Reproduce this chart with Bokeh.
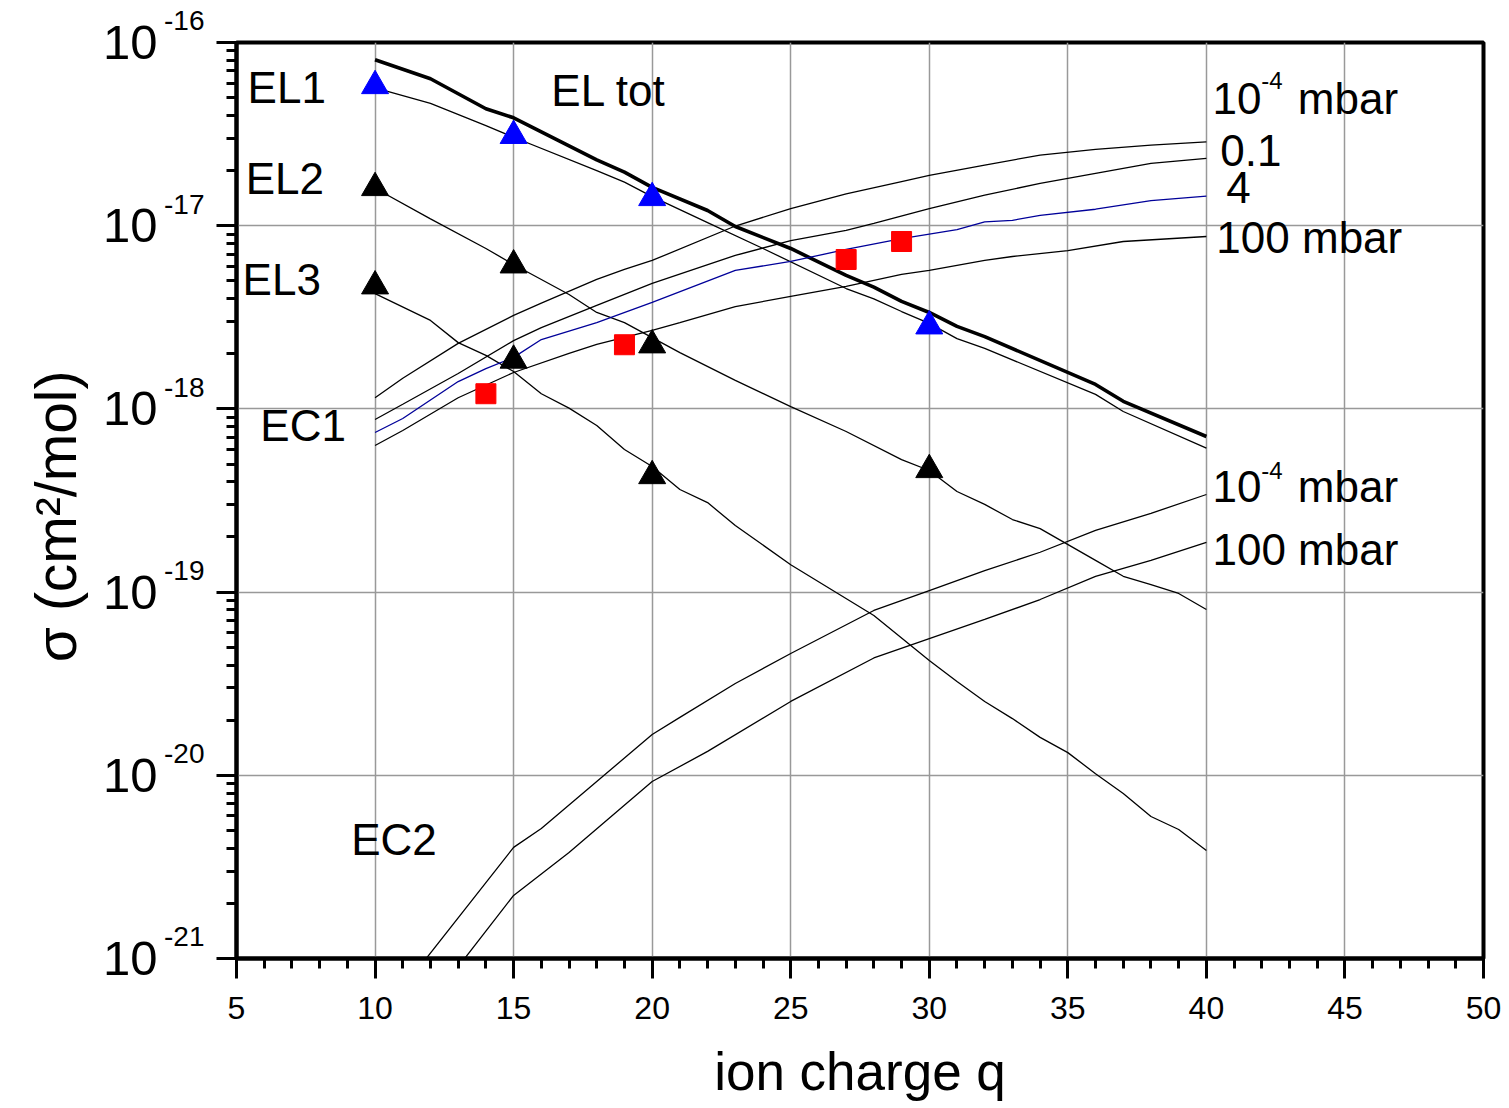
from bokeh.plotting import figure
from bokeh.models import FixedTicker, Label, CustomJSTickFormatter, LogAxis
from bokeh.embed import file_html
from bokeh.resources import INLINE

FONT = "Liberation Sans"

# ---------------- data ----------------
q_eltot = [10, 12, 14, 15, 18, 19, 20, 22, 23, 25, 27, 28, 29, 30, 31, 32, 36, 37, 40]
s_eltot = [8.05e-17, 6.34e-17, 4.35e-17, 3.88e-17, 2.29e-17, 1.96e-17, 1.62e-17, 1.21e-17,
           9.90e-18, 7.51e-18, 5.35e-18, 4.62e-18, 3.86e-18, 3.36e-18, 2.82e-18, 2.48e-18,
           1.36e-18, 1.10e-18, 7.07e-19]

q_el1 = [10, 12, 14, 15, 18, 19, 20, 22, 24, 27, 28, 29, 30, 31, 32, 36, 37, 40]
s_el1 = [5.66e-17, 4.65e-17, 3.52e-17, 3.04e-17, 2.00e-17, 1.73e-17, 1.44e-17, 1.04e-17,
         7.51e-18, 4.54e-18, 3.99e-18, 3.40e-18, 2.93e-18, 2.42e-18, 2.14e-18, 1.20e-18,
         9.68e-19, 6.11e-19]

q_el2 = [10, 12, 14, 15, 17, 18, 19, 20, 21, 23, 25, 27, 29, 30, 31, 32, 33, 34, 36, 37, 38, 39, 40]
s_el2 = [1.60e-17, 1.09e-17, 7.51e-18, 6.14e-18, 4.21e-18, 3.36e-18, 2.96e-18, 2.45e-18,
         2.03e-18, 1.43e-18, 1.03e-18, 7.53e-19, 5.29e-19, 4.61e-19, 3.54e-19, 3.01e-19,
         2.49e-19, 2.22e-19, 1.49e-19, 1.22e-19, 1.10e-19, 9.83e-20, 8.04e-20]

q_el3 = [10, 12, 13, 14, 15, 16, 17, 18, 19, 20, 21, 22, 23, 25, 28, 30, 31, 32, 33, 34, 35, 36, 37, 38, 39, 40]
s_el3 = [4.26e-18, 3.04e-18, 2.30e-18, 1.96e-18, 1.60e-18, 1.21e-18, 1.01e-18, 8.12e-19,
         6.00e-19, 4.85e-19, 3.63e-19, 3.08e-19, 2.31e-19, 1.41e-19, 7.45e-20, 4.23e-20,
         3.25e-20, 2.53e-20, 2.04e-20, 1.61e-20, 1.33e-20, 1.02e-20, 7.96e-21, 5.96e-21,
         5.06e-21, 3.89e-21]

q_ec1_1e4 = [10, 11, 13, 15, 16, 18, 19, 20, 23, 25, 27, 29, 30, 32, 34, 36, 38, 40]
s_ec1_1e4 = [1.15e-18, 1.47e-18, 2.28e-18, 3.24e-18, 3.78e-18, 5.09e-18, 5.77e-18, 6.46e-18,
             9.96e-18, 1.24e-17, 1.49e-17, 1.74e-17, 1.88e-17, 2.14e-17, 2.43e-17, 2.61e-17,
             2.75e-17, 2.87e-17]

q_ec1_01 = [10, 11, 13, 15, 16, 18, 20, 23, 25, 27, 28, 30, 32, 34, 36, 38, 40]
s_ec1_01 = [8.75e-19, 1.06e-18, 1.56e-18, 2.36e-18, 2.78e-18, 3.67e-18, 4.84e-18, 6.88e-18,
            8.30e-18, 9.42e-18, 1.03e-17, 1.24e-17, 1.47e-17, 1.70e-17, 1.93e-17, 2.19e-17,
            2.33e-17]

q_ec1_4 = [10, 11, 13, 14, 15, 16, 18, 20, 23, 25, 27, 29, 31, 32, 33, 34, 36, 38, 40]
s_ec1_4 = [7.43e-19, 8.86e-19, 1.41e-18, 1.66e-18, 1.91e-18, 2.39e-18, 2.96e-18, 3.81e-18,
           5.70e-18, 6.38e-18, 7.42e-18, 8.51e-18, 9.53e-18, 1.05e-17, 1.07e-17, 1.14e-17,
           1.23e-17, 1.37e-17, 1.45e-17]

q_ec1_100 = [10, 11, 13, 15, 17, 18, 20, 21, 23, 25, 27, 29, 30, 32, 33, 35, 37, 40]
s_ec1_100 = [6.31e-19, 7.62e-19, 1.15e-18, 1.58e-18, 2.01e-18, 2.25e-18, 2.68e-18, 2.96e-18,
             3.62e-18, 4.11e-18, 4.66e-18, 5.42e-18, 5.70e-18, 6.46e-18, 6.79e-18, 7.32e-18,
             8.20e-18, 8.73e-18]

q_ec2_1e4 = [10, 15, 16, 18, 20, 21, 23, 25, 28, 30, 32, 34, 36, 38, 40]
s_ec2_1e4 = [4.42e-22, 4.04e-21, 5.12e-21, 9.25e-21, 1.67e-20, 2.07e-20, 3.17e-20, 4.62e-20,
             7.94e-20, 1.02e-19, 1.31e-19, 1.65e-19, 2.17e-19, 2.69e-19, 3.41e-19]

q_ec2_100 = [12, 15, 17, 20, 22, 25, 28, 30, 32, 34, 36, 38, 40]
s_ec2_100 = [5.75e-22, 2.21e-21, 3.79e-21, 9.25e-21, 1.35e-20, 2.53e-20, 4.37e-20, 5.58e-20,
             7.09e-20, 9.11e-20, 1.22e-19, 1.49e-19, 1.87e-19]

q_el1_pts = [10, 15, 20, 30]
s_el1_pts = [5.80e-17, 3.10e-17, 1.42e-17, 2.83e-18]
q_el2_pts = [10, 15, 20, 30]
s_el2_pts = [1.61e-17, 6.09e-18, 2.23e-18, 4.65e-19]
q_el3_pts = [10, 15, 20]
s_el3_pts = [4.68e-18, 1.84e-18, 4.31e-19]
q_ec1_pts = [14, 19, 27, 29]
s_ec1_pts = [1.21e-18, 2.24e-18, 6.54e-18, 8.20e-18]

x_ticks = [5, 10, 15, 20, 25, 30, 35, 40, 45, 50]
y_decades = [1e-21, 1e-20, 1e-19, 1e-18, 1e-17, 1e-16]

# ---------------- figure ----------------
p = figure(width=1509, height=1108, y_axis_type="log",
           x_range=(5, 50), y_range=(1e-21, 1e-16),
           output_backend="svg", toolbar_location=None,
           min_border_left=236, min_border_right=26,
           min_border_top=42, min_border_bottom=150)
p.background_fill_color = "white"
p.border_fill_color = "white"
p.outline_line_color = "black"
p.outline_line_width = 4

def style_ticks(ax):
    ax.axis_line_width = 4
    ax.axis_line_color = "black"
    ax.major_tick_out = 20
    ax.major_tick_in = 0
    ax.minor_tick_out = 10
    ax.minor_tick_in = 0
    ax.major_tick_line_width = 3
    ax.minor_tick_line_width = 3
    ax.major_tick_line_color = "black"
    ax.minor_tick_line_color = "black"

# x axis
p.xaxis.ticker = FixedTicker(ticks=x_ticks, minor_ticks=list(range(5, 51)))
p.xaxis.major_label_text_font = FONT
p.xaxis.major_label_text_font_size = "32px"
p.xaxis.major_label_text_color = "black"
p.xaxis.major_label_standoff = 18
style_ticks(p.xaxis)
p.xaxis.axis_label = "ion charge q"
p.xaxis.axis_label_text_font = FONT
p.xaxis.axis_label_text_font_size = "53px"
p.xaxis.axis_label_text_font_style = "normal"
p.xaxis.axis_label_text_color = "black"
p.xaxis.axis_label_standoff = 20

# inner y axis: ticks + exponents (raised with a second, empty line)
y_minor = []
for d in y_decades[:-1]:
    for k in range(2, 10):
        y_minor.append(k * d)
p.yaxis.ticker = FixedTicker(ticks=y_decades, minor_ticks=y_minor)
p.yaxis.formatter = CustomJSTickFormatter(
    code="return String(Math.round(Math.log10(tick))) + '\\n ';")
p.yaxis.major_label_text_font = FONT
p.yaxis.major_label_text_font_size = "28px"
p.yaxis.major_label_text_line_height = 1.4
p.yaxis.major_label_text_color = "black"
p.yaxis.major_label_standoff = 12
style_ticks(p.yaxis)

# outer y axis: mantissa "10" and the axis title
outer = LogAxis(ticker=FixedTicker(ticks=y_decades, minor_ticks=[]),
                formatter=CustomJSTickFormatter(code="return '10';"))
outer.axis_line_color = None
outer.major_tick_line_color = None
outer.minor_tick_line_color = None
outer.major_tick_out = 0
outer.major_tick_in = 0
outer.minor_tick_out = 0
outer.minor_tick_in = 0
outer.major_label_standoff = 4
outer.major_label_text_font = FONT
outer.major_label_text_font_size = "49px"
outer.major_label_text_color = "black"
outer.axis_label = "\u03c3 (cm\u00b2/mol)\u00a0\u00a0"
outer.axis_label_text_font = FONT
outer.axis_label_text_font_size = "57px"
outer.axis_label_text_font_style = "normal"
outer.axis_label_text_color = "black"
outer.axis_label_standoff = 12
p.add_layout(outer, "left")

for g in (p.xgrid, p.ygrid):
    g.grid_line_color = "#999999"
    g.grid_line_width = 1.5

# ---------------- curves ----------------
thin = 1.3
p.line(q_eltot, s_eltot, line_color="black", line_width=3.6)
p.line(q_el1, s_el1, line_color="black", line_width=thin)
p.line(q_el2, s_el2, line_color="black", line_width=thin)
p.line(q_el3, s_el3, line_color="black", line_width=thin)
p.line(q_ec1_1e4, s_ec1_1e4, line_color="black", line_width=thin)
p.line(q_ec1_01, s_ec1_01, line_color="black", line_width=thin)
p.line(q_ec1_4, s_ec1_4, line_color="#000099", line_width=thin)
p.line(q_ec1_100, s_ec1_100, line_color="black", line_width=thin)
p.line(q_ec2_1e4, s_ec2_1e4, line_color="black", line_width=thin)
p.line(q_ec2_100, s_ec2_100, line_color="black", line_width=thin)

p.scatter(q_el1_pts, s_el1_pts, marker="triangle", size=27, fill_color="#0000ff", line_color="#0000ff")
p.scatter(q_el2_pts, s_el2_pts, marker="triangle", size=27, fill_color="black", line_color="black")
p.scatter(q_el3_pts, s_el3_pts, marker="triangle", size=27, fill_color="black", line_color="black")
p.scatter(q_ec1_pts, s_ec1_pts, marker="square", size=20, fill_color="#ff0000", line_color="#ff0000")

# ---------------- curve labels ----------------
def lab(x, y, text, size):
    p.add_layout(Label(x=x, y=y, text=text, text_font=FONT, text_font_size=size,
                       text_color="black", text_align="left", text_baseline="alphabetic"))

lab(5.40, 5.65e-17, "EL1", "44px")
lab(5.33, 1.82e-17, "EL2", "44px")
lab(5.22, 5.06e-18, "EL3", "44px")
lab(5.86, 8.07e-19, "EC1", "44px")
lab(9.14, 4.44e-21, "EC2", "44px")
lab(16.36, 5.44e-17, "EL tot", "44px")

lab(40.22, 4.92e-17, "10", "44px")
lab(41.98, 6.17e-17, "-4", "24px")
lab(43.30, 4.92e-17, "mbar", "44px")
lab(40.50, 2.56e-17, "0.1", "44px")
lab(40.72, 1.61e-17, "4", "44px")
lab(40.36, 8.58e-18, "100 mbar", "44px")

lab(40.22, 3.75e-19, "10", "44px")
lab(41.98, 4.59e-19, "-4", "24px")
lab(43.30, 3.75e-19, "mbar", "44px")
lab(40.22, 1.70e-19, "100 mbar", "44px")

open("out.html", "w").write(file_html(p, INLINE))
